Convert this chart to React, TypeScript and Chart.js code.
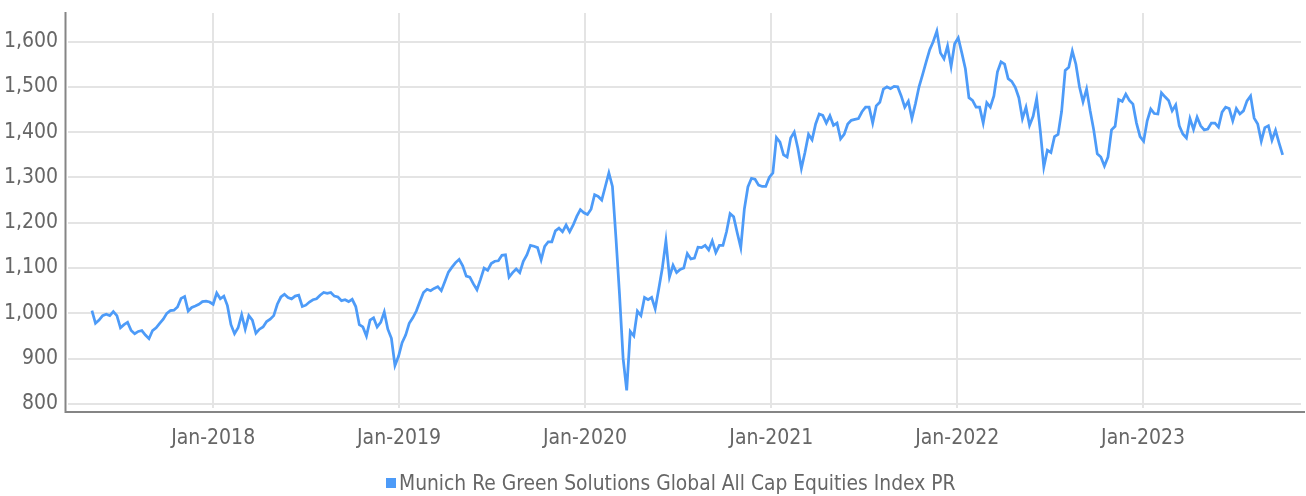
import React, { useEffect, useRef } from "react";
import { Chart, registerables } from "chart.js";

Chart.register(...registerables);

// ---------------- data ----------------
const SERIES_LABEL = "Munich Re Green Solutions Global All Cap Equities Index PR";
const SERIES_START = "2017-05-08"; // first weekly observation
const SERIES_STEP_DAYS = 7;

// weekly index levels (price return)
const indexValues: number[] = [
  1006, 978, 985, 995, 998, 995, 1004, 995, 968, 975,
  980, 962, 955, 960, 962, 952, 944, 962, 968, 978,
  987, 1000, 1006, 1007, 1014, 1033, 1037, 1005, 1013, 1016,
  1020, 1026, 1027, 1025, 1020, 1045, 1032, 1038, 1017, 975,
  955, 968, 997, 965, 995, 985, 956, 965, 970, 982,
  987, 995, 1020, 1036, 1042, 1035,
  1032, 1038, 1040, 1015, 1018, 1025, 1030, 1032, 1040, 1046,
  1044, 1046, 1038, 1036, 1028, 1030, 1026, 1031, 1015, 975,
  970, 950, 985, 990, 970, 980, 1003, 965, 945, 885,
  905, 935, 952, 978, 990, 1005, 1026, 1046, 1053, 1050,
  1055, 1059, 1050, 1070, 1091, 1102, 1112, 1119, 1105, 1082,
  1080, 1065, 1052, 1075, 1100, 1095,
  1110, 1115, 1116, 1128, 1129, 1080, 1090, 1098, 1090, 1115,
  1129, 1150, 1148, 1145, 1118, 1148, 1158, 1158, 1182, 1188,
  1180, 1195, 1180, 1195, 1214, 1229, 1222, 1218, 1230, 1262,
  1258, 1250, 1280, 1310, 1280, 1165, 1040, 900, 830, 960,
  950, 1005, 995, 1035, 1030, 1035, 1010, 1054, 1100, 1160,
  1080, 1106, 1090, 1097, 1100, 1132,
  1120, 1122, 1146, 1145, 1150, 1140, 1160, 1134, 1150, 1150,
  1180, 1220, 1213, 1178, 1145, 1230, 1279, 1298, 1296, 1283,
  1280, 1280, 1300, 1310, 1388, 1378, 1350, 1345, 1387, 1400,
  1365, 1320, 1355, 1395, 1383, 1418, 1440, 1437, 1420, 1436,
  1415, 1420, 1385, 1395, 1418, 1426, 1428, 1430, 1445, 1455,
  1455, 1420, 1458, 1466, 1495, 1500,
  1496, 1501, 1500, 1480, 1455, 1468, 1430, 1463, 1500, 1527,
  1555, 1582, 1600, 1623, 1575, 1562, 1590, 1545, 1595, 1608,
  1575, 1540, 1476, 1470, 1455, 1455, 1420, 1465, 1455, 1480,
  1533, 1555, 1550, 1518, 1512, 1499, 1476, 1430, 1455, 1415,
  1435, 1474, 1404, 1323, 1360, 1355, 1390, 1395, 1446, 1536,
  1543, 1579, 1550, 1500, 1467, 1495,
  1447, 1405, 1352, 1345, 1325, 1345, 1405, 1413, 1472, 1468,
  1484, 1470, 1462, 1420, 1390, 1380, 1425, 1451, 1441, 1440,
  1487, 1478, 1470, 1447, 1460, 1414, 1396, 1387, 1430, 1406,
  1433, 1414, 1405, 1407, 1420, 1420, 1411, 1444, 1455, 1452,
  1425, 1452, 1440, 1447, 1469, 1480, 1431, 1418, 1380, 1410,
  1414, 1382, 1404, 1376, 1350,
];

const xTickDates = ["2018-01-01", "2019-01-01", "2020-01-01", "2021-01-01", "2022-01-01", "2023-01-01"];
const xTickLabels = ["Jan-2018", "Jan-2019", "Jan-2020", "Jan-2021", "Jan-2022", "Jan-2023"];
const yTickValues = [800, 900, 1000, 1100, 1200, 1300, 1400, 1500, 1600];

const X_RANGE = ["2017-03-22", "2023-11-07"];
const Y_RANGE = [791, 1663];

// ---------------- helpers ----------------
const dayNum = (iso: string) => Date.parse(iso + "T00:00:00Z") / 86400000;

const FONT = "'DejaVu Sans Condensed', 'Liberation Sans Narrow', sans-serif";
const TEXT_COLOR = "#666666";
const LINE_COLOR = "#4d9bf8";
const GRID_COLOR = "#e4e4e4";
const AXIS_COLOR = "#858585";

const axisLinesPlugin = {
  id: "axisLines",
  afterDraw(chart: any) {
    const { ctx, chartArea: a } = chart;
    ctx.save();
    ctx.strokeStyle = AXIS_COLOR;
    ctx.lineWidth = 2;
    ctx.beginPath();
    ctx.moveTo(a.left - 2.5, a.top - 1);
    ctx.lineTo(a.left - 2.5, a.bottom + 4);
    ctx.lineTo(a.right + 4, a.bottom + 4);
    ctx.stroke();
    ctx.restore();
  },
};

export default function App() {
  const canvasRef = useRef<HTMLCanvasElement | null>(null);

  useEffect(() => {
    if (!canvasRef.current) return;
    const start = dayNum(SERIES_START);
    const points = indexValues.map((v, i) => ({ x: start + i * SERIES_STEP_DAYS, y: v }));
    const xTicks = xTickDates.map(dayNum);

    const chart = new Chart(canvasRef.current, {
      type: "line",
      data: {
        datasets: [
          {
            label: SERIES_LABEL,
            data: points,
            borderColor: LINE_COLOR,
            backgroundColor: LINE_COLOR,
            borderWidth: 2.75,
            pointRadius: 0,
            tension: 0,
            fill: false,
          },
        ],
      },
      options: {
        responsive: false,
        animation: false,
        devicePixelRatio: 1,
        layout: { padding: { top: 13, right: 5, left: 0, bottom: 0 } },
        plugins: {
          legend: { display: false },
          tooltip: { enabled: false },
        },
        scales: {
          x: {
            type: "linear",
            min: dayNum(X_RANGE[0]),
            max: dayNum(X_RANGE[1]),
            afterBuildTicks: (scale: any) => {
              scale.ticks = xTicks.map((v) => ({ value: v }));
            },
            afterFit: (scale: any) => {
              scale.height = 88;
              scale.paddingLeft = 0;
              scale.paddingRight = 0;
            },
            grid: { color: GRID_COLOR, lineWidth: 2, drawTicks: false },
            border: { display: false },
            ticks: {
              autoSkip: false,
              maxRotation: 0,
              padding: 18,
              color: TEXT_COLOR,
              font: { family: FONT, size: 21 },
              callback: (_v: any, i: number) => xTickLabels[i],
            },
          },
          y: {
            type: "linear",
            min: Y_RANGE[0],
            max: Y_RANGE[1],
            afterBuildTicks: (scale: any) => {
              scale.ticks = yTickValues.map((v) => ({ value: v }));
            },
            afterFit: (scale: any) => {
              scale.width = 68;
              scale.paddingTop = 0;
              scale.paddingBottom = 0;
            },
            grid: { color: GRID_COLOR, lineWidth: 2, drawTicks: false },
            border: { display: false },
            ticks: {
              padding: 10,
              color: TEXT_COLOR,
              font: { family: FONT, size: 21 },
              callback: (v: any) => Number(v).toLocaleString("en-US"),
            },
          },
        },
      },
      plugins: [axisLinesPlugin],
    } as any);

    return () => chart.destroy();
  }, []);

  return (
    <div style={{ position: "absolute", left: 0, top: 0, width: 1306, height: 496, background: "#fff" }}>
      <canvas ref={canvasRef} width={1306} height={496} style={{ display: "block" }} />
      <div
        style={{
          position: "absolute",
          left: 386,
          top: 478,
          width: 10,
          height: 10,
          background: LINE_COLOR,
        }}
      />
      <div
        style={{
          position: "absolute",
          left: 399,
          top: 469,
          height: 28,
          lineHeight: "28px",
          fontFamily: FONT,
          fontSize: 20.8,
          color: TEXT_COLOR,
          whiteSpace: "nowrap",
        }}
      >
        {SERIES_LABEL}
      </div>
    </div>
  );
}
